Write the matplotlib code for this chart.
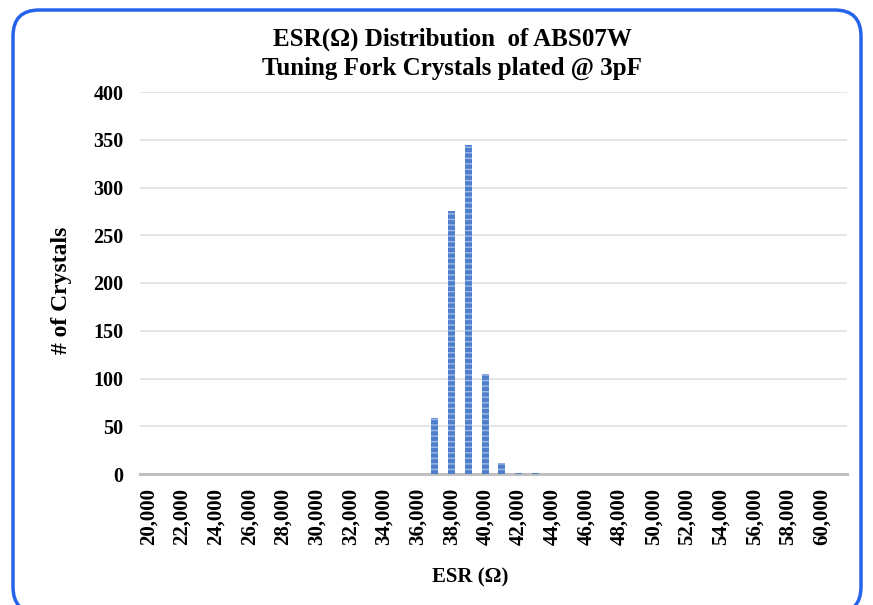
import matplotlib
matplotlib.use("Agg")
import matplotlib.pyplot as plt
from matplotlib.patches import FancyBboxPatch

# ---- data ----
esr_values = [20000, 21000, 22000, 23000, 24000, 25000, 26000, 27000, 28000, 29000,
              30000, 31000, 32000, 33000, 34000, 35000, 36000, 37000, 38000, 39000,
              40000, 41000, 42000, 43000, 44000, 45000, 46000, 47000, 48000, 49000,
              50000, 51000, 52000, 53000, 54000, 55000, 56000, 57000, 58000, 59000,
              60000]
counts = [0, 0, 0, 0, 0, 0, 0, 0, 0, 0,
          0, 0, 0, 0, 0, 0, 0, 59, 275, 344,
          105, 11, 1, 1, 0, 0, 0, 0, 0, 0,
          0, 0, 0, 0, 0, 0, 0, 0, 0, 0,
          0]
title = "ESR(Ω) Distribution  of ABS07W\nTuning Fork Crystals plated @ 3pF"
xlabel = "ESR (Ω)"
ylabel = "# of Crystals"
yticks = [0, 50, 100, 150, 200, 250, 300, 350, 400]

plt.rcParams['font.family'] = ['Liberation Serif', 'DejaVu Serif']
plt.rcParams['font.weight'] = 'bold'

W, H = 873, 605
fig = plt.figure(figsize=(W / 100, H / 100), dpi=100)
ax = fig.add_axes([140 / W, 1 - 474 / H, (847 - 140) / W, (474 - 92) / H])

pos = list(range(len(esr_values)))
ax.bar(pos, counts, width=0.42, color='#4f7fcc', edgecolor='none', zorder=3)
ax.bar(pos, counts, width=0.42, facecolor='none', edgecolor='#9dbbe8',
       linewidth=0, hatch='---', zorder=4)

ax.set_xlim(-0.5, len(esr_values) + 0.5)
ax.set_ylim(0, 400)
ax.set_yticks(yticks)
ax.set_yticklabels([str(v) for v in yticks], fontsize=14.5, fontweight='bold')
ax.set_xticks(pos[::2])
ax.set_xticklabels([f"{v:,}" for v in esr_values[::2]], rotation=90,
                   fontsize=15, fontweight='bold')
ax.tick_params(axis='both', length=0)
ax.tick_params(axis='y', pad=12)
ax.tick_params(axis='x', pad=10)

ax.grid(axis='y', color='#e3e3e3', linewidth=1.3, zorder=0)
ax.set_axisbelow(True)
for s in ['top', 'right', 'left']:
    ax.spines[s].set_visible(False)
ax.spines['bottom'].set_color('#bfbfbf')
ax.spines['bottom'].set_linewidth(2.2)

fig.text(452 / W, 1 - 54 / H, title, ha='center', va='center', fontsize=18,
         fontweight='bold', linespacing=1.3)
fig.text(470 / W, 1 - 577 / H, xlabel, ha='center', va='center', fontsize=15,
         fontweight='bold')
fig.text(62 / W, 1 - 290 / H, ylabel, ha='center', va='center', fontsize=17,
         fontweight='bold', rotation=90)

border = FancyBboxPatch((13 / W, -8 / H), (861 - 13) / W, (H - 10 + 8) / H,
                        boxstyle="round,pad=0,rounding_size=0.03",
                        transform=fig.transFigure, facecolor='none',
                        edgecolor='#2563eb', linewidth=2.5, clip_on=False,
                        mutation_aspect=W / H)
fig.patches.append(border)

fig.savefig("out.png", dpi=100)
